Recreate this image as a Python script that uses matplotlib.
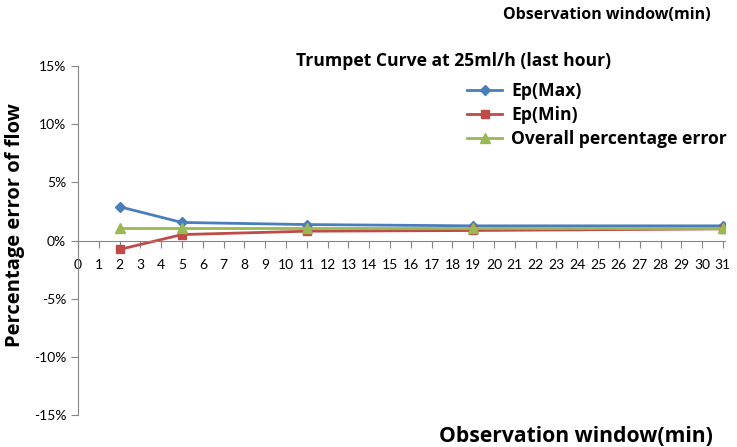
import numpy as np
import matplotlib
matplotlib.use('Agg')
import matplotlib.pyplot as plt
from matplotlib.legend_handler import HandlerLine2D

# Observation windows (min) and percentage errors (%)
windows = [2, 5, 11, 19, 31]
ep_max = [2.9, 1.55, 1.37, 1.26, 1.26]
ep_min = [-0.77, 0.51, 0.80, 0.86, 1.00]
overall = [1.11, 1.11, 1.11, 1.11, 1.11]

x_ticks = list(range(0, 32))
y_ticks = [-15, -10, -5, 0, 5, 10, 15]
y_tick_labels = ['-15%', '-10%', '-5%', '0%', '5%', '10%', '15%']

title = 'Trumpet Curve at 25ml/h (last hour)'
x_label = 'Observation window(min)'
y_label = 'Percentage error of flow'


# legend marker sits at the right end of the line, like Excel
class EndMarkerHandler(HandlerLine2D):
    def get_xdata(self, legend, xdescent, ydescent, width, height, fontsize):
        xdata = np.array([-xdescent, width - xdescent])
        return xdata, np.array([width - xdescent - 2])


bold = dict(family='Open Sans', weight='bold')

fig = plt.figure(figsize=(7.37, 4.47), dpi=100)
ax = fig.add_axes([78 / 737, 32 / 447, 647 / 737, 349 / 447])

l1, = ax.plot(windows, ep_max, color='#4A7EBB', lw=2.0, marker='D', ms=5)
l2, = ax.plot(windows, ep_min, color='#BE4B48', lw=2.0, marker='s', ms=6)
l3, = ax.plot(windows, overall, color='#98B954', lw=2.0, marker='^', ms=7)

ax.set_xlim(0, 31.1)
ax.set_ylim(-15, 15)
ax.set_xticks(x_ticks)
ax.set_yticks(y_ticks, y_tick_labels)

for s in ['top', 'right']:
    ax.spines[s].set_visible(False)
ax.spines['bottom'].set_position(('data', 0))
ax.spines['bottom'].set_color('#868686')
ax.spines['left'].set_color('#868686')
ax.tick_params(axis='both', colors='#868686', length=5, labelcolor='black',
               labelsize=10)
ax.tick_params(axis='x', pad=8)
for lab in ax.get_xticklabels() + ax.get_yticklabels():
    lab.set_family('Lato')

fig.text(454 / 737, 1 - 61 / 447, title, ha='center', va='center',
         fontsize=12.6, **bold)
fig.text(607 / 737, 1 - 15 / 447, x_label, ha='center', va='center',
         fontsize=11.5, **bold)
fig.text(576 / 737, 1 - 437 / 447, x_label, ha='center', va='center',
         fontsize=15.2, **bold)
fig.text(15 / 737, 1 - 225 / 447, y_label, ha='center', va='center',
         rotation=90, fontsize=14.5, **bold)

leg = fig.legend([l1, l2, l3], ['Ep(Max)', 'Ep(Min)', 'Overall percentage error'],
                 loc='upper left', bbox_to_anchor=(455 / 737, 1 - 70 / 447),
                 frameon=False, handlelength=2.0, handletextpad=0.5,
                 labelspacing=0.33, numpoints=1, borderaxespad=0.3,
                 prop=dict(family='Open Sans', weight='bold', size=12.6),
                 handler_map={l1: EndMarkerHandler(), l2: EndMarkerHandler(),
                              l3: EndMarkerHandler()})

plt.savefig('out.png', dpi=100)
